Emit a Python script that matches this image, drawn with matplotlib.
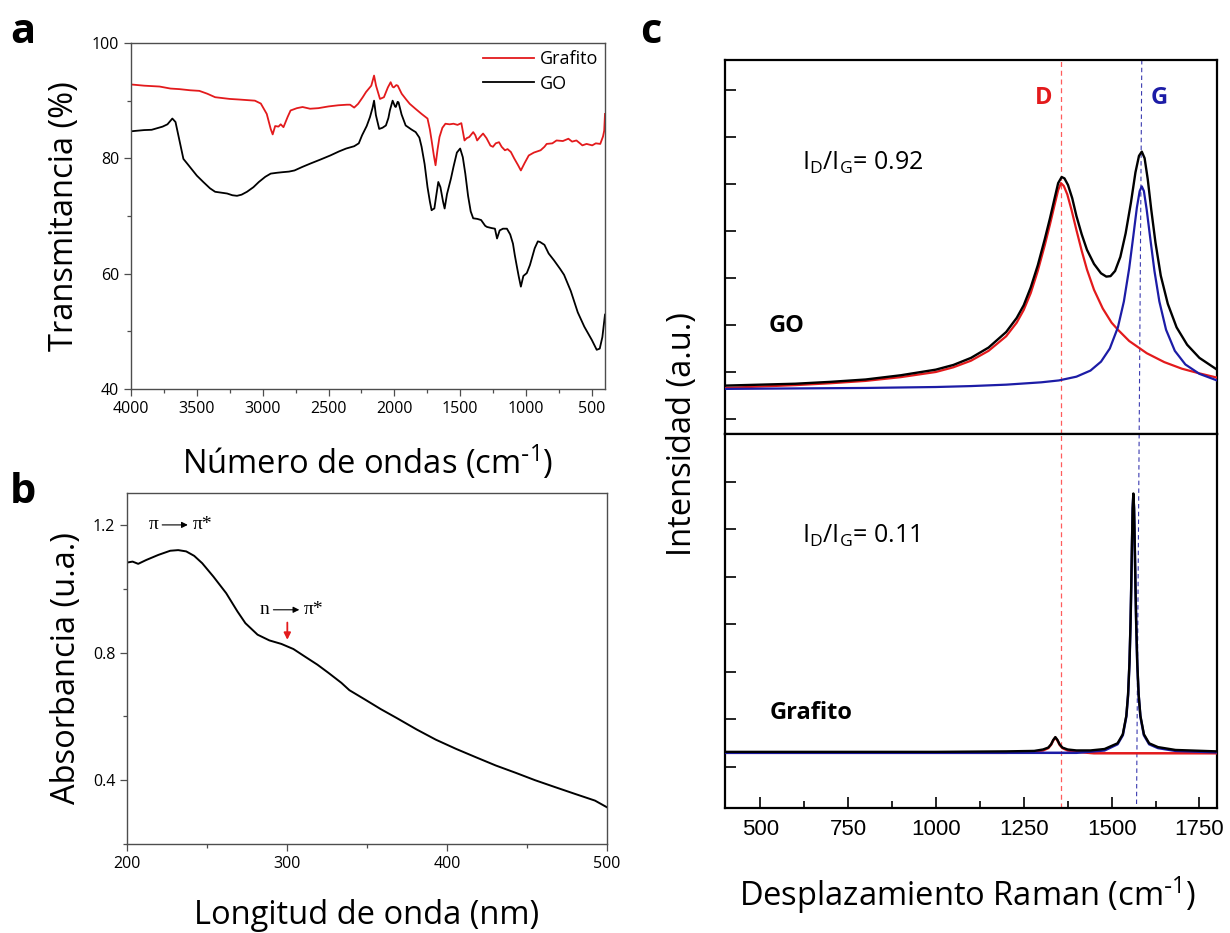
import numpy as np
import matplotlib
matplotlib.use("Agg")
import matplotlib.pyplot as plt
from matplotlib.ticker import MultipleLocator

plt.rcParams["font.family"] = ["Open Sans", "DejaVu Sans"]
plt.rcParams["mathtext.default"] = "regular"

# ---- panel a: FTIR (wavenumber, transmittance %) ----
ftir_grafito = [
    (3995, 92.8), (3900, 92.6), (3783, 92.45), (3700, 92.1), (3632, 92.0), (3550, 91.8),
    (3481, 91.7), (3420, 91.2), (3361, 90.6), (3250, 90.3), (3180, 90.2), (3059, 90.0),
    (3014, 89.5), (2969, 87.7), (2939, 85.1), (2924, 84.15), (2905, 85.6), (2880, 85.5),
    (2863, 85.9), (2842, 85.4), (2810, 87.2), (2788, 88.3), (2740, 88.7), (2697, 88.9),
    (2640, 88.6), (2577, 88.7), (2500, 89.0), (2426, 89.2), (2360, 89.3), (2336, 89.3),
    (2305, 88.8), (2275, 89.45), (2240, 90.6), (2215, 91.5), (2175, 92.6), (2154, 94.35),
    (2139, 92.6), (2109, 90.3), (2079, 90.6), (2049, 92.3), (2028, 93.2), (2013, 92.4),
    (2004, 92.3), (1985, 92.7), (1974, 92.6), (1944, 91.2), (1910, 90.2), (1883, 89.45),
    (1840, 88.6), (1793, 87.7), (1748, 86.9), (1730, 85.0), (1717, 83.1), (1700, 80.5),
    (1687, 78.8), (1672, 81.5), (1657, 83.7), (1635, 85.3), (1612, 86.0), (1580, 85.9),
    (1551, 86.0), (1520, 85.8), (1491, 86.1), (1467, 83.1), (1450, 83.5), (1431, 83.7),
    (1401, 84.55), (1385, 84.0), (1371, 83.1), (1350, 83.7), (1326, 84.3), (1300, 83.5),
    (1270, 82.2), (1251, 82.0), (1230, 82.6), (1205, 82.8), (1185, 82.0), (1160, 81.4),
    (1140, 81.6), (1115, 81.1), (1090, 80.0), (1060, 78.8), (1039, 77.9), (1010, 79.2),
    (979, 80.5), (940, 81.0), (889, 81.4), (860, 82.0), (843, 82.5), (800, 82.6),
    (768, 83.1), (720, 83.0), (678, 83.4), (650, 82.9), (617, 83.1), (590, 82.6),
    (572, 82.25), (540, 82.5), (497, 82.25), (470, 82.6), (436, 82.5), (415, 83.8),
    (406, 84.8), (400, 87.7),
]
ftir_go = [
    (3995, 84.7), (3900, 84.9), (3843, 84.95), (3760, 85.5), (3723, 85.9), (3686, 86.9),
    (3662, 86.3), (3632, 83.1), (3602, 79.9), (3570, 79.0), (3542, 78.2), (3500, 77.0),
    (3451, 75.9), (3400, 74.8), (3361, 74.2), (3300, 74.0), (3270, 73.9), (3230, 73.6),
    (3195, 73.5), (3160, 73.7), (3119, 74.2), (3070, 75.0), (3029, 75.9), (2980, 76.8),
    (2939, 77.35), (2890, 77.5), (2848, 77.6), (2800, 77.7), (2758, 77.9), (2700, 78.5),
    (2637, 79.1), (2560, 79.8), (2486, 80.5), (2420, 81.2), (2366, 81.7), (2305, 82.1),
    (2270, 82.6), (2245, 84.0), (2210, 85.6), (2185, 87.15), (2165, 88.8), (2154, 90.0),
    (2140, 87.5), (2115, 85.1), (2090, 85.3), (2064, 85.7), (2045, 87.0), (2034, 88.3),
    (2013, 90.0), (1995, 89.0), (1989, 88.9), (1975, 89.8), (1968, 89.7), (1945, 87.6),
    (1914, 85.7), (1870, 85.0), (1838, 84.55), (1810, 83.6), (1793, 82.0), (1770, 79.0),
    (1748, 75.0), (1730, 72.5), (1717, 71.0), (1705, 71.2), (1696, 71.3), (1680, 73.8),
    (1666, 75.9), (1650, 75.0), (1630, 72.5), (1618, 71.3), (1600, 73.8), (1570, 76.5),
    (1551, 78.5), (1525, 81.0), (1500, 81.7), (1480, 80.2), (1461, 77.35), (1440, 73.5),
    (1420, 70.8), (1401, 69.6), (1370, 69.5), (1341, 69.3), (1310, 68.3), (1296, 68.1),
    (1260, 67.9), (1236, 67.8), (1220, 66.1), (1200, 67.5), (1175, 67.8), (1145, 67.8),
    (1120, 66.8), (1099, 65.2), (1085, 63.2), (1069, 61.2), (1055, 59.5), (1039, 57.75),
    (1020, 59.6), (994, 60.1), (970, 61.5), (934, 64.4), (910, 65.6), (894, 65.5),
    (860, 65.0), (828, 63.5), (787, 62.3), (740, 60.8), (711, 59.8), (660, 57.0),
    (607, 53.3), (557, 50.8), (500, 48.5), (463, 46.8), (440, 47.0), (420, 49.0),
    (400, 52.9),
]

# ---- panel b: UV-vis (nm, absorbance) ----
uv_nm = [200, 203.5, 207, 212, 219.6, 227, 232, 237, 242, 247, 254, 262, 269, 274,
         281.6, 289, 296.5, 304, 311, 319, 326, 334, 339, 349, 358.5, 368.5, 381, 393,
         405.7, 418, 430.5, 443, 455, 467.7, 480, 492.5, 500]
uv_abs = [1.082, 1.085, 1.078, 1.09, 1.106, 1.119, 1.121, 1.117, 1.103, 1.08, 1.038,
          0.986, 0.929, 0.892, 0.856, 0.838, 0.827, 0.811, 0.788, 0.762, 0.736, 0.705,
          0.682, 0.652, 0.623, 0.595, 0.559, 0.527, 0.498, 0.472, 0.446, 0.423, 0.40,
          0.378, 0.357, 0.336, 0.315]

# ---- panel c: Raman (shift, intensity a.u.) ----
go_total = [
    (400, 0.71), (500, 0.73), (600, 0.75), (700, 0.79), (800, 0.84), (900, 0.93),
    (1000, 1.05), (1050, 1.15), (1100, 1.30), (1150, 1.52), (1200, 1.85), (1230, 2.15),
    (1250, 2.42), (1270, 2.80), (1290, 3.27), (1310, 3.83), (1325, 4.28), (1338, 4.70),
    (1348, 5.02), (1358, 5.15), (1366, 5.12), (1376, 4.98), (1388, 4.70), (1400, 4.32),
    (1415, 3.93), (1430, 3.60), (1450, 3.30), (1470, 3.10), (1485, 3.03), (1497, 3.04),
    (1510, 3.15), (1525, 3.45), (1540, 3.95), (1555, 4.60), (1568, 5.25), (1578, 5.60),
    (1586, 5.69), (1594, 5.55), (1603, 5.10), (1613, 4.45), (1625, 3.75), (1640, 3.05),
    (1660, 2.45), (1685, 1.95), (1715, 1.58), (1750, 1.30), (1800, 1.05),
]
go_d_band = [
    (400, 0.66), (500, 0.69), (600, 0.72), (700, 0.76), (800, 0.81), (900, 0.89),
    (1000, 1.00), (1050, 1.10), (1100, 1.24), (1150, 1.45), (1200, 1.76), (1230, 2.05),
    (1250, 2.32), (1270, 2.68), (1290, 3.15), (1310, 3.70), (1325, 4.15), (1338, 4.56),
    (1348, 4.87), (1356, 5.02), (1364, 4.96), (1374, 4.78), (1386, 4.45), (1400, 4.02),
    (1415, 3.58), (1430, 3.18), (1450, 2.75), (1475, 2.35), (1500, 2.05), (1518, 1.90),
    (1550, 1.66), (1600, 1.40), (1650, 1.21), (1700, 1.07), (1750, 0.97), (1800, 0.88),
]
go_g_band = [
    (400, 0.64), (600, 0.65), (800, 0.66), (1000, 0.68), (1100, 0.70), (1200, 0.73),
    (1300, 0.78), (1350, 0.82), (1400, 0.90), (1440, 1.03), (1470, 1.22), (1495, 1.50),
    (1518, 1.95), (1535, 2.50), (1550, 3.20), (1562, 3.90), (1572, 4.50), (1580, 4.85),
    (1586, 4.95), (1592, 4.85), (1600, 4.45), (1610, 3.85), (1622, 3.15), (1636, 2.50),
    (1655, 1.90), (1680, 1.45), (1710, 1.16), (1750, 0.96), (1800, 0.82),
]
gr_total = [
    (400, 0.32), (1000, 0.32), (1200, 0.33), (1280, 0.34), (1305, 0.37), (1320, 0.41),
    (1328, 0.48), (1334, 0.57), (1340, 0.63), (1346, 0.57), (1352, 0.48), (1360, 0.41),
    (1375, 0.37), (1400, 0.35), (1440, 0.35), (1480, 0.38), (1517, 0.50), (1532, 0.69),
    (1542, 1.08), (1547, 1.53), (1551, 2.21), (1554, 3.05), (1556, 3.81), (1558, 4.67),
    (1560, 5.44), (1562, 5.75), (1564, 5.44), (1566, 4.67), (1568, 3.81), (1570, 3.05),
    (1573, 2.21), (1577, 1.53), (1582, 1.08), (1592, 0.69), (1607, 0.50), (1632, 0.42),
    (1682, 0.36), (1800, 0.33),
]
gr_d_band = [
    (400, 0.30), (1200, 0.30), (1280, 0.32), (1305, 0.35), (1320, 0.40), (1328, 0.47),
    (1334, 0.56), (1340, 0.62), (1346, 0.56), (1352, 0.47), (1360, 0.40), (1375, 0.35),
    (1400, 0.32), (1450, 0.29), (1800, 0.29),
]
gr_g_band = [
    (400, 0.30), (1200, 0.30), (1400, 0.30), (1480, 0.35), (1517, 0.48), (1532, 0.67),
    (1542, 1.06), (1547, 1.51), (1551, 2.19), (1554, 3.03), (1556, 3.79), (1558, 4.65),
    (1560, 5.42), (1562, 5.73), (1564, 5.42), (1566, 4.65), (1568, 3.79), (1570, 3.03),
    (1573, 2.19), (1577, 1.51), (1582, 1.06), (1592, 0.67), (1607, 0.48), (1632, 0.40),
    (1682, 0.34), (1800, 0.31),
]
d_line = 1356
g_line_top, g_line_bottom = 1586, 1571

RED = "#e31a1c"
BLUE = "#1c1ca6"

fig = plt.figure(figsize=(12.3, 9.33), dpi=100)
W, H = 1230, 933


def box(l, t, r, b):
    return [l / W, 1 - b / H, (r - l) / W, (b - t) / H]


def xy(x, y):
    return x / W, 1 - y / H


# ---------- a ----------
ax_a = fig.add_axes(box(131, 43, 605, 389))
ax_a.plot(*zip(*ftir_grafito), color=RED, lw=1.3, label="Grafito")
ax_a.plot(*zip(*ftir_go), color="black", lw=1.3, label="GO")
ax_a.set_xlim(4000, 400)
ax_a.set_ylim(40, 100)
ax_a.xaxis.set_major_locator(MultipleLocator(500))
ax_a.xaxis.set_minor_locator(MultipleLocator(250))
ax_a.yaxis.set_major_locator(MultipleLocator(20))
ax_a.yaxis.set_minor_locator(MultipleLocator(10))
ax_a.legend(loc="upper right", frameon=False, fontsize=13, handlelength=2.8,
            handletextpad=0.3, labelspacing=0.35, borderaxespad=0.2, borderpad=0.2)

# ---------- b ----------
ax_b = fig.add_axes(box(127, 493, 607, 844))
ax_b.plot(uv_nm, uv_abs, color="black", lw=1.4)
ax_b.set_xlim(200, 500)
ax_b.set_ylim(0.2, 1.3)
ax_b.xaxis.set_major_locator(MultipleLocator(100))
ax_b.xaxis.set_minor_locator(MultipleLocator(50))
ax_b.yaxis.set_minor_locator(MultipleLocator(0.2))
ax_b.set_yticks([0.4, 0.8, 1.2])
ax_b.set_yticklabels(["0.4", "0.8", "1.2"])

serif = ["Liberation Serif", "DejaVu Serif"]
arrow_kw = dict(arrowstyle="-|>", lw=0.8, color="black", mutation_scale=9,
                shrinkA=0, shrinkB=0)
ax_b.text(216.5, 1.2, "π", family=serif, fontsize=14, ha="center", va="center")
ax_b.annotate("", xy=(238, 1.2), xytext=(222, 1.2), arrowprops=arrow_kw)
ax_b.text(241, 1.2, "π*", family=serif, fontsize=14, ha="left", va="center")
ax_b.text(286, 0.934, "n", family=serif, fontsize=14, ha="center", va="center")
ax_b.annotate("", xy=(307.7, 0.934), xytext=(291.5, 0.934), arrowprops=arrow_kw)
ax_b.text(310.5, 0.934, "π*", family=serif, fontsize=14, ha="left", va="center")
ax_b.annotate("", xy=(300.2, 0.84), xytext=(300.2, 0.894),
              arrowprops=dict(arrowstyle="-|>", lw=1.3, color=RED, mutation_scale=10,
                              shrinkA=0, shrinkB=0))

for ax in (ax_a, ax_b):
    for s in ax.spines.values():
        s.set_color("#4d4d4d")
        s.set_linewidth(1.0)
    ax.tick_params(which="both", direction="out", colors="#4d4d4d", labelcolor="black",
                   labelsize=11.5, width=0.9)
    ax.tick_params(which="major", length=5)
    ax.tick_params(which="minor", length=3)

# ---------- c ----------
ax_c1 = fig.add_axes(box(725, 60, 1217, 434))
ax_c2 = fig.add_axes(box(725, 434, 1217, 808))
c1_ylim = (-0.32, 7.64)
c2_ylim = (-0.86, 7.0)

ax_c1.plot(*zip(*go_d_band), color=RED, lw=1.6, zorder=3)
ax_c1.plot(*zip(*go_g_band), color=BLUE, lw=1.6, zorder=3)
ax_c1.plot(*zip(*go_total), color="black", lw=1.7, zorder=4)
ax_c2.plot(*zip(*gr_d_band), color=RED, lw=1.8, zorder=3)
ax_c2.plot(*zip(*gr_g_band), color=BLUE, lw=1.8, zorder=3)
ax_c2.plot(*zip(*gr_total), color="black", lw=1.7, zorder=4)

# G reference line is slightly slanted across both halves
g_mid = g_line_top + (g_line_bottom - g_line_top) * 0.5
for ax, ylim, (gx0, gx1) in ((ax_c1, c1_ylim, (g_line_top, g_mid)),
                              (ax_c2, c2_ylim, (g_mid, g_line_bottom))):
    ax.set_xlim(400, 1800)
    ax.set_ylim(*ylim)
    ax.axvline(d_line, color="#ff5c5c", ls=(0, (4, 3)), lw=0.9, zorder=1)
    ax.plot([gx0, gx1], [ylim[1], ylim[0]], color="#3a3ab0", ls=(0, (4, 3)),
            lw=0.8, zorder=1)
    for s in ax.spines.values():
        s.set_color("black")
        s.set_linewidth(1.6)
    ax.set_yticks(np.arange(0, 8 if ax is ax_c1 else 7))
    ax.tick_params(axis="y", direction="in", length=8, width=1.2, labelleft=False)

ax_c1.tick_params(axis="x", bottom=False, labelbottom=False)
ax_c2.xaxis.set_minor_locator(MultipleLocator(125))
ax_c2.set_xticks(np.arange(500, 1800, 250))
ax_c2.tick_params(axis="x", which="both", direction="in", width=1.2,
                  labelsize=16, labelfontfamily="Liberation Sans", pad=8)
ax_c2.tick_params(axis="x", which="major", length=8)
ax_c2.tick_params(axis="x", which="minor", length=5)

ax_c1.text(1307, 6.84, "D", color=RED, fontsize=17, weight="bold", ha="center", va="center")
ax_c1.text(1635, 6.84, "G", color=BLUE, fontsize=17, weight="bold", ha="center", va="center")
ax_c1.text(618, 5.45, "I$_D$/I$_G$= 0.92", fontsize=18, ha="left", va="center")
ax_c1.text(524, 1.98, "GO", fontsize=17, weight="bold", ha="left", va="center")
ax_c2.text(618, 4.85, "I$_D$/I$_G$= 0.11", fontsize=18, ha="left", va="center")
ax_c2.text(527, 1.13, "Grafito", fontsize=17, weight="bold", ha="left", va="center")

# ---------- labels ----------
LBL = 23.5
fig.text(*xy(368, 474), r"Número de ondas (cm$^{\text{-}1}$)", fontsize=LBL,
         ha="center", va="baseline")
fig.text(*xy(65, 216), "Transmitancia (%)", fontsize=LBL, rotation=90, ha="center", va="center")
fig.text(*xy(367, 924), "Longitud de onda (nm)", fontsize=LBL, ha="center", va="baseline")
fig.text(*xy(66, 668), "Absorbancia (u.a.)", fontsize=LBL, rotation=90, ha="center", va="center")
fig.text(*xy(968, 906), r"Desplazamiento Raman (cm$^{\text{-}1}$)", fontsize=LBL,
         ha="center", va="baseline")
fig.text(*xy(683, 434), "Intensidad (a.u.)", fontsize=LBL, rotation=90, ha="center", va="center")

fig.text(*xy(10, 43), "a", fontsize=30, weight="bold", va="baseline")
fig.text(*xy(10, 503), "b", fontsize=30, weight="bold", va="baseline")
fig.text(*xy(640, 43), "c", fontsize=30, weight="bold", va="baseline")

fig.savefig("out.png", dpi=100)
